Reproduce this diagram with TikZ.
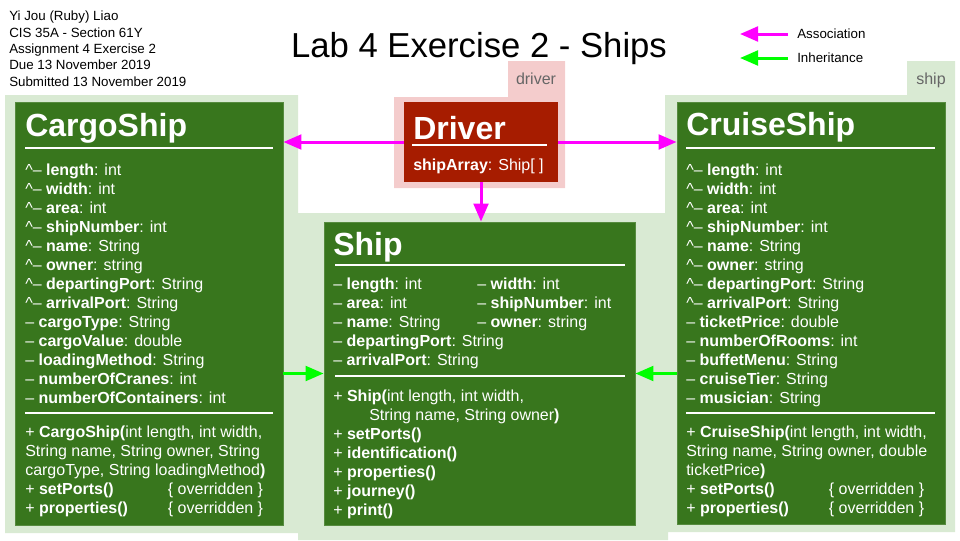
\documentclass[tikz,border=0pt]{standalone}
\usepackage{fontspec}
\setmainfont{Liberation Sans}
\usetikzlibrary{positioning,arrows.meta,fit}
\definecolor{pkggreen}{HTML}{D9EAD3}
\definecolor{clsgreen}{HTML}{38761D}
\definecolor{pkgpink}{HTML}{F4CCCC}
\definecolor{clsred}{HTML}{A61C00}
\definecolor{assocmag}{HTML}{FF00FF}
\definecolor{inhgreen}{HTML}{00FF00}
\definecolor{lblgray}{HTML}{666666}
\newcommand{\prot}[2]{\textasciicircum-- \textbf{#1}: #2}
\newcommand{\priv}[2]{-- \textbf{#1}: #2}
\newcommand{\meth}[1]{+ \textbf{#1}}
\newcommand{\ovr}[1]{\makebox[107pt][l]{\meth{#1}}\{ overridden \}}
\tikzset{
  classbox/.style={inner sep=0pt, fill=clsgreen, draw=clsgreen!85!white, line width=0.6pt},
  classname/.style={anchor=base west, inner sep=0pt, text=white, font=\fontsize{24}{28}\selectfont\bfseries},
  members/.style={anchor=base west, inner sep=0pt, text=white, align=left, font=\fontsize{12}{14.25}\selectfont},
  sepline/.style={draw=white, line width=1.5pt},
  pkglabel/.style={anchor=base, inner sep=0pt, text=lblgray, font=\fontsize{12}{14}\selectfont},
  plain/.style={anchor=base west, inner sep=0pt, align=left, font=\fontsize{10}{12.2}\selectfont},
  assoc/.style={draw=assocmag, line width=2.25pt, -{Triangle[length=13.5pt,width=11pt]}},
  inherit/.style={draw=inhgreen, line width=2.25pt, -{Triangle[length=13.5pt,width=11pt]}}
}
\begin{document}
\begin{tikzpicture}[x=0.75pt, y=-0.75pt]
    \useasboundingbox (0,0) rectangle (960,540);

    % packages
    \fill[pkggreen] (5,95) rectangle (298,533) (298,213) rectangle (668,540)
                    (665,95) rectangle (955,532) (907,61) rectangle (955,95);
    \fill[pkgpink] (394,97) rectangle (565,188) (508,61) rectangle (565,97);
    \node[pkglabel] (drvPkg) at (536,84) {driver};
    \node[pkglabel] (shipPkg) at (931,84) {ship};

    % multi-line nodes sit on the baseline of their last line
    \node[plain] (author) at (9,86) {Yi Jou (Ruby) Liao\\CIS 35A - Section 61Y\\Assignment 4 Exercise 2\\Due 13 November 2019\\Submitted 13 November 2019};
    \node[anchor=base, inner sep=0pt, font=\fontsize{26}{30}\selectfont] (title) at (479,57) {Lab 4 Exercise 2 - Ships};

    % legend
    \node[plain] (assocLbl) at (797,38) {Association};
    \node[plain] (inhLbl) at (797,62) {Inheritance};
    \coordinate (assocA) at (788,34);
    \coordinate (assocB) at (740,34);
    \coordinate (inhA) at (788,58);
    \coordinate (inhB) at (740,58);
    \draw[assoc] (assocA) -- (assocB);
    \draw[inherit] (inhA) -- (inhB);

    % Driver
    \node[fit={(404,102) (558,182)}, inner sep=0pt, fill=clsred] (driver) {};
    \node[classname] (driverName) at (413,139) {Driver};
    \draw[sepline] (412,145) -- (547,145);
    \node[members] (driverAttr) at (413,170) {\textbf{shipArray}: Ship[ ]};

    % CargoShip
    \node[classbox, fit={(15,102) (283,525)}] (cargo) {};
    \node[classname] (cargoName) at (25,136) {CargoShip};
    \draw[sepline] (25,148) -- (273,148);
    \node[members] (cargoAttr) at (25,403) {\prot{length}{int}\\\prot{width}{int}\\\prot{area}{int}\\\prot{shipNumber}{int}\\\prot{name}{String}\\\prot{owner}{string}\\\prot{departingPort}{String}\\\prot{arrivalPort}{String}\\\priv{cargoType}{String}\\\priv{cargoValue}{double}\\\priv{loadingMethod}{String}\\\priv{numberOfCranes}{int}\\\priv{numberOfContainers}{int}};
    \draw[sepline] (25,413) -- (273,413);
    \node[members] (cargoMeth) at (25,513) {\meth{CargoShip(}int length, int width,\\String name, String owner, String\\cargoType, String loadingMethod\textbf{)}\\\ovr{setPorts()}\\\ovr{properties()}};

    % Ship
    \node[classbox, fit={(324,222) (635,525)}] (ship) {};
    \node[classname] (shipName) at (333,255) {Ship};
    \draw[sepline] (335,265) -- (625,265);
    \node[members] (shipAttr) at (333,365) {\makebox[108pt][l]{\priv{length}{int}}\priv{width}{int}\\\makebox[108pt][l]{\priv{area}{int}}\priv{shipNumber}{int}\\\makebox[108pt][l]{\priv{name}{String}}\priv{owner}{string}\\\priv{departingPort}{String}\\\priv{arrivalPort}{String}};
    \draw[sepline] (335,376) -- (625,376);
    \node[members] (shipMeth) at (333,515) {\meth{Ship(}int length, int width,\\\hspace*{27pt}String name, String owner\textbf{)}\\\meth{setPorts()}\\\meth{identification()}\\\meth{properties()}\\\meth{journey()}\\\meth{print()}};

    % CruiseShip
    \node[classbox, fit={(677,102) (945,524)}] (cruise) {};
    \node[classname] (cruiseName) at (686,135) {CruiseShip};
    \draw[sepline] (686,148) -- (935,148);
    \node[members] (cruiseAttr) at (686,403) {\prot{length}{int}\\\prot{width}{int}\\\prot{area}{int}\\\prot{shipNumber}{int}\\\prot{name}{String}\\\prot{owner}{string}\\\prot{departingPort}{String}\\\prot{arrivalPort}{String}\\\priv{ticketPrice}{double}\\\priv{numberOfRooms}{int}\\\priv{buffetMenu}{String}\\\priv{cruiseTier}{String}\\\priv{musician}{String}};
    \draw[sepline] (686,413) -- (935,413);
    \node[members] (cruiseMeth) at (686,513) {\meth{CruiseShip(}int length, int width,\\String name, String owner, double\\ticketPrice\textbf{)}\\\ovr{setPorts()}\\\ovr{properties()}};

    % connectors
    \draw[assoc] (driver.west) -- (driver.west -| cargo.east);
    \draw[assoc] (driver.east) -- (driver.east -| cruise.west);
    \draw[assoc] (driver.south) -- (driver.south |- ship.north);
    \draw[inherit] (cargo.east |- ship.west) -- (ship.west);
    \draw[inherit] (cruise.west |- ship.east) -- (ship.east);
  \end{tikzpicture}
\end{document}
